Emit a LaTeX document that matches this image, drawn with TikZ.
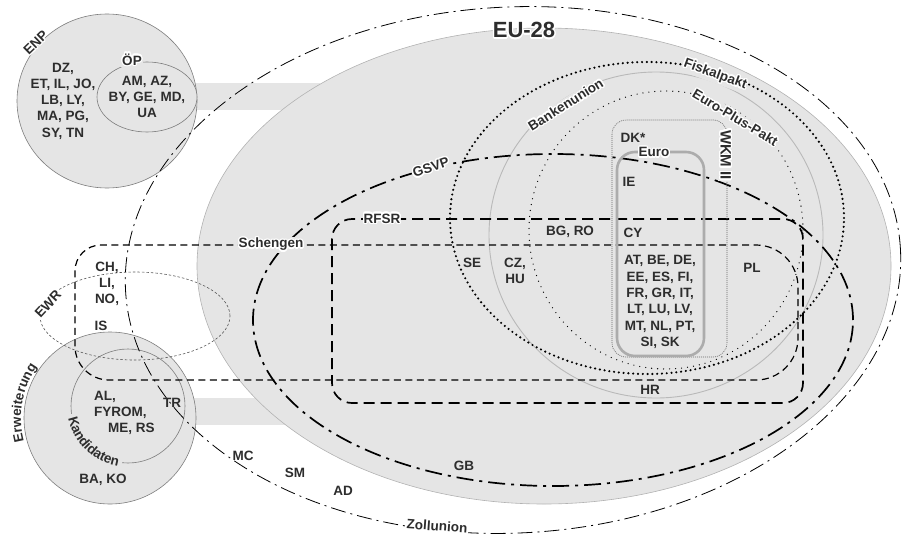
\documentclass[tikz,border=0pt]{standalone}
\usepackage{fontspec}
\setmainfont{Liberation Sans}
\usepackage{contour}
\contourlength{1.3pt}
\contournumber{20}
\usetikzlibrary{decorations.text}

\definecolor{eufill}{RGB}{229,229,229}
\definecolor{txt}{RGB}{45,45,45}
\definecolor{rand}{RGB}{125,125,125}

\newcommand{\lblfont}{\bfseries\fontsize{13.5}{16.3}\selectfont}
\newcommand{\halo}[1]{\contour{white}{#1}}

\tikzset{
  lbl/.style={font=\lblfont, text=txt, inner sep=1pt, align=center},
  cut/.style={lbl, fill=eufill},
  cutw/.style={lbl, fill=white},
  bogen/.style={decorate, decoration={text along path, text align=center,
      text={|\lblfont\color{txt}|#1}}},
  kreis/.style={draw=rand, line width=0.6pt, fill=eufill},
  eurand/.style={draw=gray!60, line width=0.6pt, fill=eufill},
  zoll/.style={line width=0.8pt, dash pattern=on 15pt off 5pt on 2pt off 5pt},
  gsvp/.style={line width=1.7pt, dash pattern=on 17pt off 6pt on 3pt off 6pt},
  schengen/.style={line width=1.2pt, dash pattern=on 7pt off 4.5pt},
  rfsr/.style={line width=1.7pt, dash pattern=on 11pt off 6pt},
  fiskal/.style={line width=2.4pt, line cap=round, dash pattern=on 0pt off 4.8pt},
  europlus/.style={line width=1.3pt, line cap=round, dash pattern=on 0pt off 6pt},
  banken/.style={draw=gray!55, line width=0.9pt},
  wkm/.style={draw=black!60, line width=0.6pt, dash pattern=on 1pt off 1pt},
  euro/.style={draw=gray!65, line width=2.6pt},
  ewr/.style={draw=black!65, line width=0.6pt, dash pattern=on 2.5pt off 2pt}
}

\begin{document}
\begin{tikzpicture}[x=1pt,y=-1pt]
\useasboundingbox (0,0) rectangle (904,538);

% Balken zu ENP und Erweiterung
\fill[eufill] (150,83) rectangle (320,110);
\fill[eufill] (150,398) rectangle (320,425);

% Flaechen
\draw[eurand] (544,266) ellipse [x radius=347pt, y radius=238pt];
\draw[kreis] (107,101) ellipse [x radius=90pt, y radius=87pt];
\draw[kreis] (147,97) ellipse [x radius=50pt, y radius=35pt];
\draw[kreis] (110,418) circle [radius=86pt];
\draw[kreis] (128,406) circle [radius=57pt];
\draw[eufill, line width=13pt] (128,406) ++(172:57) arc [start angle=172, end angle=96, radius=57];

% Linien
\draw[ewr] (135,316) ellipse [x radius=95pt, y radius=44pt];
\draw[zoll, rotate around={3:(513,270)}] (513,270) ellipse [x radius=388pt, y radius=263pt];
\draw[banken] (656,235) ellipse [x radius=167pt, y radius=163pt];
\draw[europlus] (666,230) ellipse [x radius=137pt, y radius=139pt];
\draw[fiskal] (647,218) ellipse [x radius=197pt, y radius=156pt];
\draw[gsvp] (553,320) ellipse [x radius=300pt, y radius=166pt];
\draw[schengen] (440,245) [rounded corners=42pt] -- (798,245) -- (798,380)
  [rounded corners=34pt] -- (75,380) [rounded corners=26pt] -- (75,245) -- cycle;
\draw[rfsr, rounded corners=20pt] (332,219) rectangle (803,403);
\draw[wkm, rounded corners=14pt] (612,120) rectangle (727,357);
\draw[euro, rounded corners=18pt] (617,152) rectangle (704,356);

% Beschriftungen der Gruppen
\node[lbl, font=\bfseries\fontsize{22}{24}\selectfont] (eu28) at (524,31) {\halo{EU-28}};
\node[lbl, rotate=44] (enp) at (36,43) {\halo{ENP}};
\node[cut] (oep) at (132,60) {\halo{ÖP}};
\node[cut, rotate=-20] (fiskalpakt) at (715,75) {\halo{Fiskalpakt}};
\node[cut, rotate=-31] (europluspakt) at (735,118) {\halo{Euro-Plus-Pakt}};
\node[cut, rotate=32] (bankenunion) at (566,105) {\halo{Bankenunion}};
\node[cut, rotate=-90, font=\bfseries\fontsize{15}{17}\selectfont] (wkm) at (725,155) {\halo{WKM II}};
\node[cut] (euro) at (654,153) {\halo{Euro}};
\node[cut, rotate=19] (gsvp) at (431,168) {\halo{GSVP}};
\node[cut] (schengen) at (271,245) {\halo{Schengen}};
\node[cut] (rfsr) at (382,219) {\halo{RFSR}};
\node[cutw, rotate=47] (ewr) at (48,304) {EWR};
\path[bogen=Erweiterung] (110,418) ++(158:89) arc [start angle=158, end angle=222, radius=89];
\path[bogen=Kandidaten] (128,406) ++(178:61) arc [start angle=178, end angle=90, radius=61];
\node[cutw, rotate=-4] (zollunion) at (437,526) {Zollunion};

% Laender
\node[lbl] (enpland) at (63,101) {DZ,\\ET, IL, JO,\\LB, LY,\\MA, PG,\\SY, TN};
\node[lbl] (oepland) at (147,97) {AM, AZ,\\BY, GE, MD,\\UA};
\node[lbl] (ewrland) at (107,284) {CH,\\LI,\\NO,};
\node[lbl] (is) at (101,326) {IS};
\node[lbl, align=left, anchor=west] (kandland) at (93,413) {AL,\\FYROM,\\\hspace*{14pt}ME, RS};
\node[lbl] (tr) at (172,403) {TR};
\node[lbl] (bako) at (103,480) {BA, KO};
\node[lbl] (mc) at (243,456) {MC};
\node[lbl] (sm) at (295,473) {SM};
\node[lbl] (ad) at (343,491) {AD};
\node[lbl] (gb) at (464,466) {GB};
\node[lbl] (hr) at (650,390) {HR};
\node[lbl] (pl) at (752,268) {PL};
\node[lbl] (bgro) at (570,232) {BG, RO};
\node[lbl] (se) at (472,263) {SE};
\node[lbl] (czhu) at (515,271) {CZ,\\HU};
\node[lbl] (dk) at (633,138) {DK*};
\node[lbl] (ie) at (629,182) {IE};
\node[lbl] (cy) at (633,233) {CY};
\node[lbl] (euroland) at (660,302) {AT, BE, DE,\\EE, ES, FI,\\FR, GR, IT,\\LT, LU, LV,\\MT, NL, PT,\\SI, SK};
\end{tikzpicture}
\end{document}
